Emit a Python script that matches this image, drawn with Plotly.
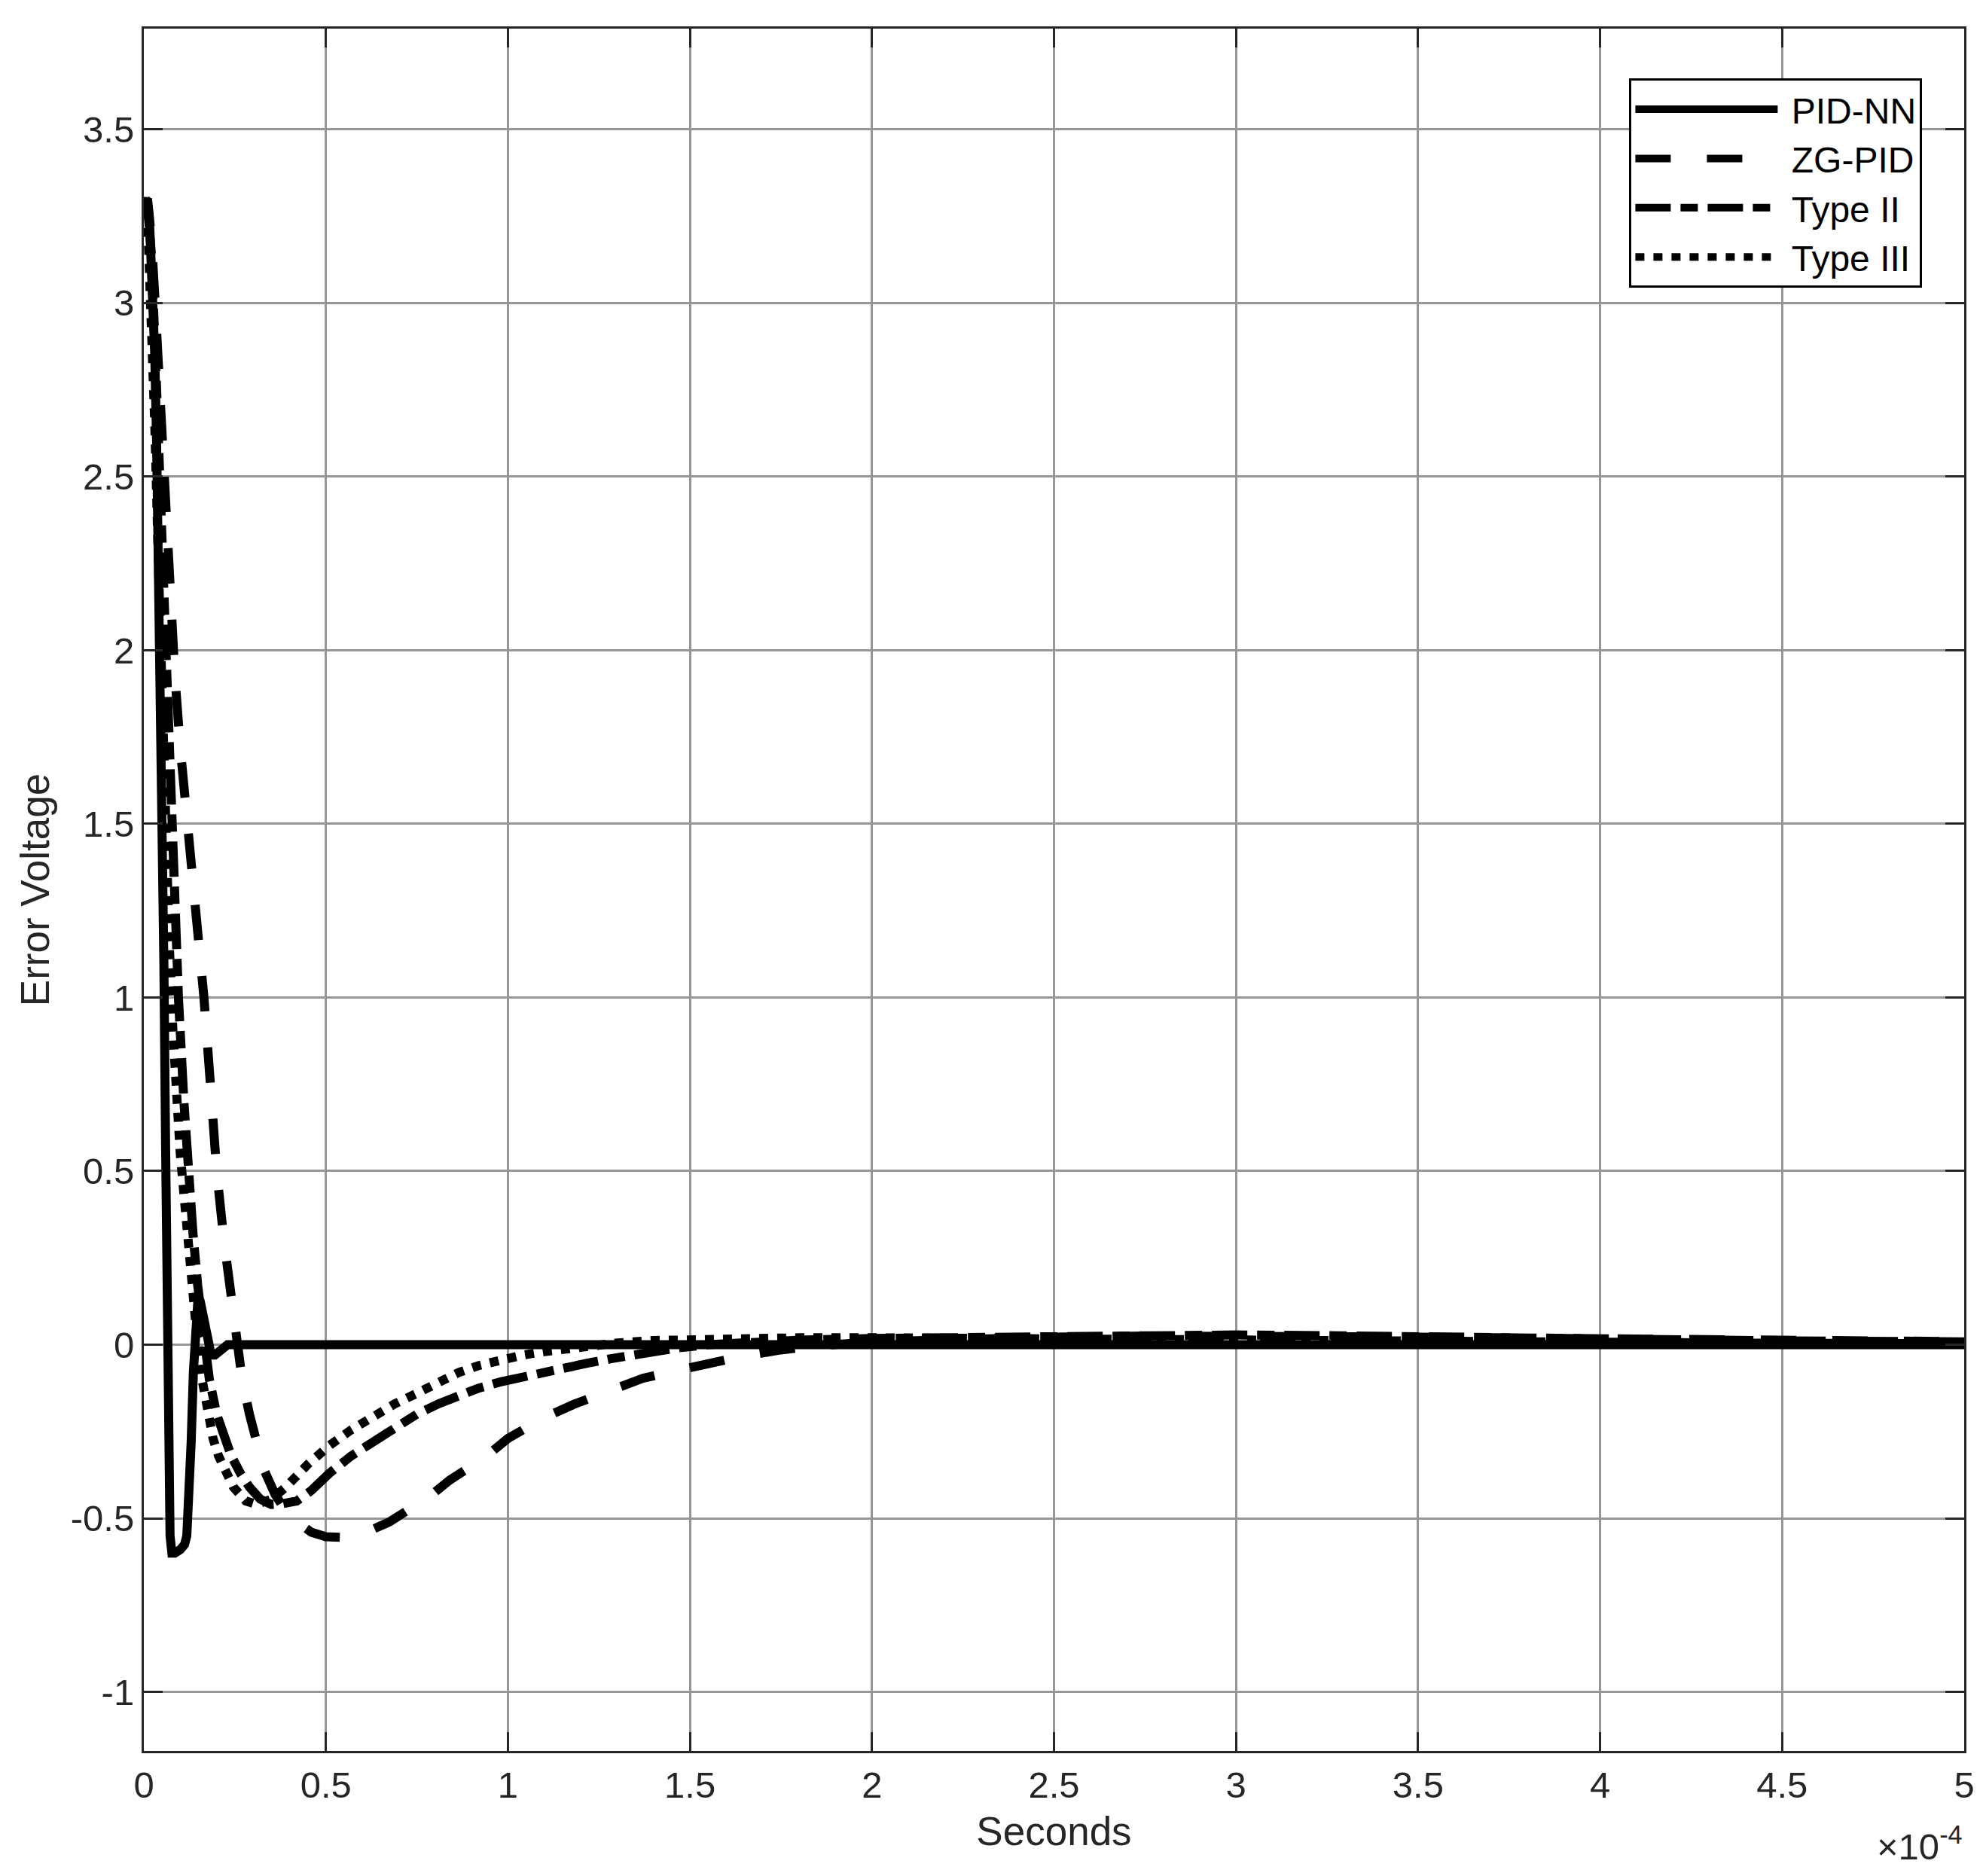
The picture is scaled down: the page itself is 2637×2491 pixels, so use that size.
import plotly.graph_objects as go

# time in units of 1e-4 s
t_pidnn = [0, 0.005, 0.01, 0.015, 0.02, 0.025, 0.03, 0.035, 0.04, 0.045, 0.05, 0.055, 0.06, 0.064, 0.068,
           0.072, 0.077, 0.085, 0.1, 0.112, 0.118, 0.124, 0.13, 0.136, 0.142, 0.148, 0.154, 0.16, 0.168,
           0.176, 0.185, 0.195, 0.205, 0.215, 0.23, 0.25, 0.3, 1, 2, 3, 4, 5]
v_pidnn = [3.28, 3.30, 3.30, 3.25, 3.15, 3.02, 2.85, 2.6, 2.3, 1.95, 1.55, 1.1, 0.55, 0.05, -0.35,
           -0.55, -0.6, -0.6, -0.59, -0.575, -0.55, -0.45, -0.28, -0.08, 0.06, 0.12, 0.13, 0.1, 0.04,
           -0.01, -0.03, -0.03, -0.02, -0.01, 0.0, 0.0, 0, 0, 0, 0, 0, 0]

t_zgpid = [0, 0.005, 0.01, 0.02, 0.03, 0.04, 0.05, 0.06, 0.07, 0.085, 0.1, 0.12, 0.14, 0.165, 0.185, 0.2,
           0.22, 0.24, 0.255, 0.27, 0.29, 0.31, 0.33, 0.36, 0.39, 0.42, 0.46, 0.5, 0.55, 0.6, 0.64, 0.675,
           0.72, 0.77, 0.84, 0.936, 1.0, 1.1, 1.185, 1.28, 1.37, 1.47, 1.56, 1.65, 1.75, 1.85, 2.0, 2.25,
           2.5, 2.75, 3.0, 3.25, 3.5, 4.0, 4.5, 5.0]
v_zgpid = [3.28, 3.3, 3.29, 3.2, 3.02, 2.8, 2.57, 2.35, 2.15, 1.93, 1.72, 1.5, 1.3, 1.0, 0.72, 0.5,
           0.3, 0.12, 0.0, -0.1, -0.2, -0.29, -0.36, -0.43, -0.48, -0.51, -0.54, -0.553, -0.555, -0.545,
           -0.53, -0.51, -0.48, -0.45, -0.39, -0.325, -0.27, -0.21, -0.17, -0.136, -0.097, -0.073, -0.05,
           -0.032, -0.015, -0.003, 0.008, 0.017, 0.022, 0.025, 0.026, 0.025, 0.022, 0.017, 0.012, 0.009]

t_type2 = [0, 0.005, 0.01, 0.02, 0.03, 0.04, 0.05, 0.06, 0.07, 0.08, 0.095, 0.11, 0.12, 0.135, 0.148,
           0.165, 0.18, 0.2, 0.22, 0.24, 0.265, 0.29, 0.32, 0.35, 0.38, 0.42, 0.46, 0.51, 0.57, 0.63,
           0.69, 0.75, 0.81, 0.865, 0.92, 0.98, 1.04, 1.1, 1.16, 1.22, 1.28, 1.34, 1.4, 1.46, 1.55, 1.65,
           1.8, 2.0, 2.25, 2.5, 2.75, 3.0, 3.25, 3.5, 4.0, 4.5, 5.0]
v_type2 = [3.28, 3.3, 3.28, 3.15, 2.9, 2.6, 2.25, 1.9, 1.6, 1.35, 1.0, 0.7, 0.52, 0.32, 0.17,
           0.0, -0.1, -0.2, -0.27, -0.32, -0.37, -0.41, -0.445, -0.46, -0.458, -0.45, -0.42, -0.37,
           -0.32, -0.28, -0.24, -0.2, -0.17, -0.146, -0.125, -0.107, -0.092, -0.078, -0.065, -0.053,
           -0.041, -0.03, -0.02, -0.01, 0.0, 0.007, 0.013, 0.018, 0.022, 0.025, 0.027, 0.028, 0.026,
           0.022, 0.016, 0.011, 0.008]

t_type3 = [0, 0.005, 0.01, 0.02, 0.03, 0.04, 0.05, 0.06, 0.07, 0.08, 0.09, 0.1, 0.113, 0.128, 0.14,
           0.148, 0.16, 0.17, 0.18, 0.19, 0.205, 0.222, 0.246, 0.28, 0.31, 0.35, 0.39, 0.45, 0.51, 0.57,
           0.63, 0.69, 0.75, 0.81, 0.865, 0.92, 0.98, 1.04, 1.1, 1.2, 1.3, 1.4, 1.6, 1.8, 2.0, 2.5, 3.0,
           3.5, 4.0, 4.5, 5.0]
v_type3 = [3.28, 3.3, 3.25, 3.0, 2.65, 2.25, 1.85, 1.48, 1.15, 0.9, 0.7, 0.55, 0.4, 0.2, 0.07,
           0.0, -0.1, -0.16, -0.22, -0.27, -0.32, -0.36, -0.41, -0.45, -0.46, -0.445, -0.41, -0.345,
           -0.29, -0.245, -0.205, -0.17, -0.14, -0.105, -0.08, -0.06, -0.044, -0.03, -0.02, -0.005,
           0.005, 0.012, 0.018, 0.02, 0.02, 0.016, 0.012, 0.009, 0.006, 0.004, 0.003]

series_names = ["PID-NN", "ZG-PID", "Type II", "Type III"]
x_ticks = [0, 0.5, 1, 1.5, 2, 2.5, 3, 3.5, 4, 4.5, 5]
x_ticktext = ["0", "0.5", "1", "1.5", "2", "2.5", "3", "3.5", "4", "4.5", "5"]
y_ticks = [-1, -0.5, 0, 0.5, 1, 1.5, 2, 2.5, 3, 3.5]
y_ticktext = ["-1", "-0.5", "0", "0.5", "1", "1.5", "2", "2.5", "3", "3.5"]

FONT = "Liberation Sans, Arial, Helvetica, sans-serif"
LW = 12
styles = ["solid", "47px,48px", "47px,13px,23px,13px", "12px,12px"]
data = [(t_pidnn, v_pidnn), (t_zgpid, v_zgpid), (t_type2, v_type2), (t_type3, v_type3)]

fig = go.Figure()
for name, (tt, vv), dash in zip(series_names, data, styles):
    fig.add_trace(go.Scatter(x=tt, y=vv, mode="lines", name="\u00a0" + name,
                             line=dict(color="black", width=LW, dash=dash)))

axis_common = dict(
    showline=True, linecolor="#262626", linewidth=3, mirror="ticks",
    ticks="inside", ticklen=25, tickwidth=3, tickcolor="#262626",
    showgrid=True, gridcolor="#969696", gridwidth=2.5, zeroline=False,
    tickfont=dict(family=FONT, size=49, color="#262626"),
)

fig.update_xaxes(range=[0, 5], tickvals=x_ticks, ticktext=x_ticktext,
                 title=dict(text="Seconds", font=dict(family=FONT, size=53, color="#262626"), standoff=18),
                 **axis_common)
fig.update_yaxes(range=[-1.17, 3.79], tickvals=y_ticks, ticktext=y_ticktext,
                 title=dict(text="Error Voltage", font=dict(family=FONT, size=53, color="#262626"), standoff=12),
                 **axis_common)

fig.add_annotation(text="×10<sup>-4</sup>", xref="paper", yref="paper", x=1.0, y=-0.068,
                   xanchor="right", yanchor="bottom", showarrow=False,
                   font=dict(family=FONT, size=49, color="#262626"))

fig.update_layout(
    width=2629, height=2483,
    margin=dict(l=183, r=29, t=30, b=166),
    plot_bgcolor="white", paper_bgcolor="white",
    showlegend=True,
    legend=dict(x=0.977, y=0.971, xanchor="right", yanchor="top",
                bgcolor="white", bordercolor="black", borderwidth=3,
                font=dict(family=FONT, size=48, color="black"),
                itemwidth=189),
)

fig.write_html("out.html")
